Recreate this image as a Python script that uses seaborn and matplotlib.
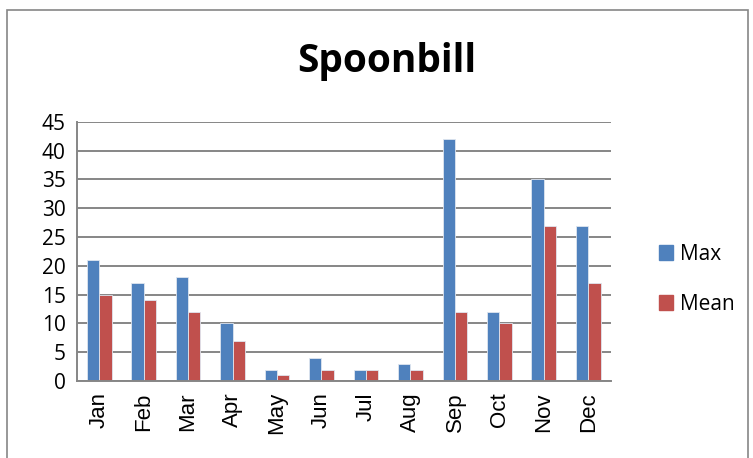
import matplotlib
matplotlib.use("Agg")
import matplotlib.pyplot as plt
import matplotlib.patches as mpatches
import pandas as pd
import seaborn as sns

months = ['Jan', 'Feb', 'Mar', 'Apr', 'May', 'Jun', 'Jul', 'Aug', 'Sep', 'Oct', 'Nov', 'Dec']
max_vals = [21, 17, 18, 10, 2, 4, 2, 3, 42, 12, 35, 27]
mean_vals = [15, 14, 12, 7, 1, 2, 2, 2, 12, 10, 27, 17]
series = ['Max', 'Mean']
colors = ['#4F81BD', '#C0504D']

df = pd.DataFrame({
    'month': months * 2,
    'value': max_vals + mean_vals,
    'series': ['Max'] * len(months) + ['Mean'] * len(months),
})

sns.set_style('white')
plt.rcParams['font.family'] = ['Open Sans', 'DejaVu Sans']
plt.rcParams['text.color'] = 'black'

fig = plt.figure(figsize=(7.53, 4.58), dpi=100)
ax = fig.add_axes([0.102, 0.168, 0.709, 0.566])

sns.barplot(data=df, x='month', y='value', hue='series', hue_order=series,
            palette=colors, width=0.56, saturation=1, ax=ax,
            edgecolor='#dfe6f0', linewidth=0.6)

ax.set_ylim(0, 45)
ax.set_yticks(range(0, 50, 5))
ax.set_xlim(-0.5, 11.5)
ax.yaxis.grid(True, color='#868686', linewidth=1.4)
ax.set_axisbelow(True)
for s in ['top', 'right']:
    ax.spines[s].set_visible(False)
ax.spines['left'].set_color('#868686')
ax.spines['left'].set_linewidth(1.4)
ax.spines['bottom'].set_color('#868686')
ax.spines['bottom'].set_linewidth(1.4)
ax.tick_params(axis='x', labelrotation=90, length=0, pad=8, labelcolor='black')
ax.tick_params(axis='y', labelsize=15, length=0, pad=8, labelcolor='black')
for lab in ax.get_xticklabels():
    lab.set_fontfamily('Liberation Sans')
    lab.set_fontsize(16)
ax.set_xlabel('')
ax.set_ylabel('')

fig.text(0.513, 0.865, 'Spoonbill', ha='center', va='center', fontsize=28, fontweight='bold')

ax.get_legend().remove()
handles = [mpatches.Patch(color=c, label=l) for c, l in zip(colors, series)]
fig.legend(handles=handles, loc='center left', bbox_to_anchor=(0.85, 0.39), frameon=False,
           fontsize=15, handlelength=0.7, handleheight=0.7, labelspacing=1.4, handletextpad=0.3)

border = mpatches.Rectangle((7 / 753, -0.1), 741 / 753, 1.1 - 10 / 458, transform=fig.transFigure,
                            fill=False, edgecolor='#868686', linewidth=1.2)
fig.patches.append(border)

fig.savefig('out.png', dpi=100)
